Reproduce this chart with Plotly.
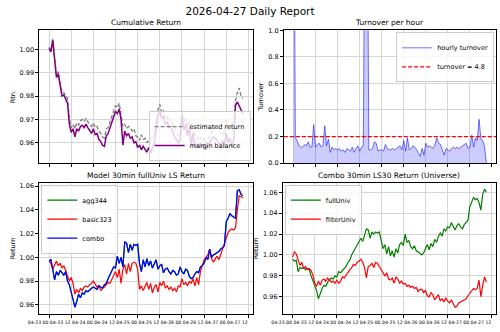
import pandas as pd
import plotly.graph_objects as go

# ---------------- data ----------------
start_time = "2026-04-23 00:00"
n_hours = 106
times = pd.date_range(start_time, periods=n_hours, freq="h")

est_return = [
    1.0010, 0.9995, 1.0045, 0.9960, 0.9890, 0.9905, 0.9850, 0.9815, 0.9815, 0.9805,
    0.9790, 0.9705, 0.9665, 0.9680, 0.9660, 0.9685, 0.9675, 0.9695, 0.9700, 0.9690,
    0.9705, 0.9690, 0.9680, 0.9670, 0.9685, 0.9665, 0.9670, 0.9650, 0.9640, 0.9625,
    0.9620, 0.9660, 0.9665, 0.9690, 0.9715, 0.9745, 0.9760, 0.9750, 0.9770, 0.9720,
    0.9670, 0.9680, 0.9660, 0.9670, 0.9665, 0.9650, 0.9660, 0.9630, 0.9625, 0.9610,
    0.9635, 0.9615, 0.9620, 0.9600, 0.9610, 0.9595, 0.9625, 0.9640, 0.9690, 0.9740,
    0.9765, 0.9730, 0.9740, 0.9705, 0.9715, 0.9690, 0.9700, 0.9675, 0.9660, 0.9650,
    0.9630, 0.9640, 0.9740, 0.9690, 0.9705, 0.9670, 0.9690, 0.9660, 0.9665, 0.9635,
    0.9620, 0.9610, 0.9625, 0.9610, 0.9620, 0.9600, 0.9615, 0.9630, 0.9640, 0.9665,
    0.9675, 0.9670, 0.9660, 0.9640, 0.9650, 0.9630, 0.9700, 0.9660, 0.9670, 0.9655,
    0.9690, 0.9780, 0.9815, 0.9835, 0.9800, 0.9790,
]

margin_balance = [
    1.0005, 0.9990, 1.0040, 0.9950, 0.9880, 0.9895, 0.9840, 0.9800, 0.9805, 0.9790,
    0.9770, 0.9680, 0.9645, 0.9660, 0.9625, 0.9660, 0.9650, 0.9670, 0.9675, 0.9665,
    0.9680, 0.9665, 0.9650, 0.9640, 0.9660, 0.9635, 0.9640, 0.9615, 0.9605, 0.9590,
    0.9585, 0.9630, 0.9640, 0.9665, 0.9690, 0.9720, 0.9735, 0.9725, 0.9745, 0.9700,
    0.9590, 0.9650, 0.9630, 0.9640, 0.9620, 0.9625, 0.9600, 0.9605, 0.9580, 0.9590,
    0.9570, 0.9585, 0.9575, 0.9560, 0.9580, 0.9555, 0.9580, 0.9600, 0.9660, 0.9715,
    0.9735, 0.9705, 0.9715, 0.9680, 0.9690, 0.9665, 0.9670, 0.9645, 0.9625, 0.9615,
    0.9600, 0.9610, 0.9720, 0.9655, 0.9680, 0.9630, 0.9665, 0.9590, 0.9640, 0.9580,
    0.9595, 0.9580, 0.9600, 0.9580, 0.9595, 0.9570, 0.9590, 0.9600, 0.9615, 0.9625,
    0.9620, 0.9610, 0.9600, 0.9590, 0.9610, 0.9590, 0.9640, 0.9600, 0.9620, 0.9585,
    0.9610, 0.9760, 0.9775, 0.9760, 0.9740, 0.9725,
]

turnover = [
    3.00, 0.19, 0.17, 0.13, 0.12, 0.12, 0.14, 0.13, 0.16, 0.12,
    0.12, 0.29, 0.12, 0.14, 0.15, 0.12, 0.13, 0.28, 0.13, 0.18,
    0.08, 0.12, 0.10, 0.11, 0.10, 0.11, 0.09, 0.10, 0.08, 0.11,
    0.10, 0.09, 0.12, 0.08, 0.11, 0.13, 0.09, 0.12, 0.13, 2.50,
    2.50, 0.10, 0.10, 0.11, 0.16, 0.15, 0.09, 0.10, 0.10, 0.09,
    0.14, 0.11, 0.10, 0.10, 0.11, 0.10, 0.11, 0.12, 0.13, 0.10,
    0.17, 0.09, 0.19, 0.10, 0.11, 0.13, 0.12, 0.10, 0.07, 0.05,
    0.11, 0.06, 0.15, 0.12, 0.13, 0.12, 0.11, 0.14, 0.19, 0.15,
    0.14, 0.10, 0.06, 0.11, 0.10, 0.09, 0.11, 0.12, 0.11, 0.12,
    0.11, 0.12, 0.13, 0.14, 0.15, 0.11, 0.12, 0.21, 0.12, 0.19,
    0.17, 0.33, 0.18, 0.17, 0.12, 0.00,
]
turnover_limit = 0.2

combo = [
    0.997, 0.998, 0.990, 0.981, 0.988, 0.985, 0.989, 0.987, 0.985, 0.988,
    0.980, 0.977, 0.971, 0.966, 0.958, 0.963, 0.969, 0.966, 0.970, 0.969,
    0.972, 0.971, 0.973, 0.974, 0.975, 0.974, 0.973, 0.976, 0.975, 0.974,
    0.977, 0.978, 0.982, 0.985, 0.988, 0.992, 0.991, 1.001, 0.995, 1.000,
    0.992, 1.013, 1.012, 1.004, 1.011, 1.006, 1.011, 1.010, 1.011, 0.995,
    0.988, 0.998, 0.992, 0.999, 0.993, 0.997, 0.991, 0.995, 0.998, 0.990,
    0.993, 0.994, 0.987, 0.990, 0.991, 0.988, 0.986, 0.989, 0.988, 0.985,
    0.986, 0.992, 0.988, 0.986, 0.990, 0.989, 0.984, 0.982, 0.983, 0.986,
    0.988, 0.987, 0.992, 0.993, 0.995, 1.000, 0.998, 1.007, 1.000, 1.002,
    1.003, 1.004, 1.005, 1.007, 1.008, 1.010, 1.030, 1.033, 1.037, 1.035,
    1.034, 1.033, 1.056, 1.057, 1.053, 1.052,
]
agg344 = list(combo)

basic323 = [
    0.997, 0.995, 0.990, 0.993, 0.997, 0.993, 0.995, 0.991, 0.993, 0.989,
    0.985, 0.980, 0.983, 0.978, 0.969, 0.973, 0.970, 0.974, 0.972, 0.975,
    0.976, 0.975, 0.977, 0.978, 0.980, 0.977, 0.975, 0.976, 0.972, 0.974,
    0.975, 0.977, 0.979, 0.978, 0.981, 0.985, 0.988, 0.983, 0.990, 0.978,
    0.990, 0.994, 0.986, 0.995, 0.988, 0.995, 0.996, 0.995, 0.990, 0.973,
    0.976, 0.972, 0.975, 0.979, 0.973, 0.978, 0.970, 0.975, 0.977, 0.971,
    0.979, 0.976, 0.980, 0.974, 0.976, 0.973, 0.975, 0.972, 0.974, 0.971,
    0.976, 0.975, 0.982, 0.977, 0.979, 0.976, 0.980, 0.978, 0.982, 0.976,
    0.983, 0.977, 0.988, 0.993, 0.998, 1.000, 1.002, 1.007, 0.999, 0.996,
    0.999, 1.001, 0.998, 1.003, 1.006, 1.012, 1.016, 1.021, 1.023, 1.024,
    1.023, 1.025, 1.040, 1.052, 1.051, 1.050,
]

full_univ = [
    0.996, 0.994, 0.995, 0.984, 0.988, 0.987, 0.988, 0.986, 0.987, 0.986,
    0.980, 0.975, 0.970, 0.966, 0.958, 0.964, 0.968, 0.971, 0.970, 0.974,
    0.976, 0.978, 0.977, 0.980, 0.979, 0.984, 0.983, 0.985, 0.986, 0.989,
    0.993, 0.995, 1.000, 1.003, 1.006, 1.010, 1.012, 1.016, 1.013, 1.020,
    1.025, 1.024, 1.016, 1.022, 1.020, 1.022, 1.021, 1.022, 1.012, 1.006,
    1.010, 1.001, 1.008, 0.999, 1.004, 0.998, 1.006, 1.002, 1.010, 1.012,
    1.009, 1.020, 1.012, 1.014, 1.008, 1.006, 1.009, 1.004, 1.003, 1.001,
    1.000, 1.002, 1.007, 1.010, 1.005, 1.011, 1.008, 1.015, 1.012, 1.018,
    1.021, 1.018, 1.025, 1.023, 1.027, 1.026, 1.031, 1.027, 1.024, 1.028,
    1.030, 1.027, 1.025, 1.029, 1.031, 1.033, 1.046, 1.051, 1.055, 1.053,
    1.054, 1.050, 1.043, 1.058, 1.063, 1.060,
]

filter_univ = [
    0.998, 1.003, 1.001, 0.996, 0.990, 0.993, 0.987, 0.989, 0.986, 0.987,
    0.985, 0.981, 0.973, 0.970, 0.975, 0.971, 0.976, 0.977, 0.975, 0.978,
    0.976, 0.974, 0.975, 0.973, 0.976, 0.973, 0.975, 0.979, 0.978, 0.981,
    0.983, 0.986, 0.988, 0.991, 0.990, 0.993, 0.994, 0.996, 0.993, 0.988,
    0.978, 0.989, 0.990, 0.992, 0.988, 0.993, 0.992, 0.989, 0.985, 0.982,
    0.980, 0.983, 0.977, 0.976, 0.978, 0.973, 0.979, 0.977, 0.973, 0.975,
    0.972, 0.973, 0.970, 0.971, 0.969, 0.970, 0.968, 0.969, 0.965, 0.967,
    0.967, 0.964, 0.966, 0.961, 0.960, 0.964, 0.962, 0.957, 0.960, 0.962,
    0.956, 0.958, 0.955, 0.959, 0.956, 0.954, 0.957, 0.953, 0.950, 0.951,
    0.954, 0.955, 0.956, 0.957, 0.958, 0.961, 0.963, 0.966, 0.968, 0.967,
    0.968, 0.976, 0.960, 0.971, 0.979, 0.974,
]

report_title = "2026-04-27 Daily Report"
panel_titles = ["Cumulative Return", "Turnover per hour",
                "Model 30min fullUniv LS Return", "Combo 30min LS30 Return (Universe)"]
tick_times = pd.date_range("2026-04-23 00:00", "2026-04-27 12:00", freq="12h")
tick_labels = [t.strftime("%m-%d %H") for t in tick_times]
x_range = ["2026-04-22 18:45", "2026-04-27 14:15"]

# ---------------- figure ----------------
W, H = 500, 332
FONT = "DejaVu Sans"

def px_x(a, b):
    return [a / W, b / W]

def px_y(top, bottom):
    return [1 - bottom / H, 1 - top / H]

dom = {
    1: (px_x(29, 247), px_y(27, 163)),
    2: (px_x(279, 496), px_y(27, 163)),
    3: (px_x(29, 247), px_y(183, 318)),
    4: (px_x(278, 496), px_y(183, 318)),
}

fig = go.Figure()

fig.add_trace(go.Scatter(x=times, y=est_return, mode="lines", name="estimated return",
                         line=dict(color="gray", width=1.3, dash="4px,2px"),
                         xaxis="x", yaxis="y", legend="legend"))
fig.add_trace(go.Scatter(x=times, y=margin_balance, mode="lines", name="margin balance",
                         line=dict(color="purple", width=1.5),
                         xaxis="x", yaxis="y", legend="legend"))

# turnover: filled area (no legend) + line (legend)
fig.add_trace(go.Scatter(x=times, y=turnover, mode="none", showlegend=False,
                         fill="tozeroy", fillcolor="rgba(0,0,255,0.2)",
                         xaxis="x2", yaxis="y2", hoverinfo="skip"))
fig.add_trace(go.Scatter(x=times, y=turnover, mode="lines", name="hourly turnover",
                         line=dict(color="rgba(0,0,255,0.55)", width=1),
                         xaxis="x2", yaxis="y2", legend="legend2"))
fig.add_shape(type="line", xref="x2 domain", x0=0, x1=1, yref="y2",
              y0=turnover_limit, y1=turnover_limit,
              line=dict(color="red", width=1.2, dash="4px,2px"),
              showlegend=True, name="turnover = 4.8", legend="legend2")

fig.add_trace(go.Scatter(x=times, y=agg344, mode="lines", name="agg344",
                         line=dict(color="green", width=1.2),
                         xaxis="x3", yaxis="y3", legend="legend3"))
fig.add_trace(go.Scatter(x=times, y=basic323, mode="lines", name="basic323",
                         line=dict(color="red", width=1.2),
                         xaxis="x3", yaxis="y3", legend="legend3"))
fig.add_trace(go.Scatter(x=times, y=combo, mode="lines", name="combo",
                         line=dict(color="blue", width=1.2),
                         xaxis="x3", yaxis="y3", legend="legend3"))

fig.add_trace(go.Scatter(x=times, y=full_univ, mode="lines", name="fullUniv",
                         line=dict(color="green", width=1.2),
                         xaxis="x4", yaxis="y4", legend="legend4"))
fig.add_trace(go.Scatter(x=times, y=filter_univ, mode="lines", name="filterUniv",
                         line=dict(color="red", width=1.2),
                         xaxis="x4", yaxis="y4", legend="legend4"))

axis_common = dict(showline=True, linecolor="black", linewidth=1, mirror=True,
                   ticks="outside", ticklen=3, tickwidth=1, tickcolor="black",
                   showgrid=True, gridcolor="#d6d6d6", gridwidth=1, zeroline=False,
                   tickfont=dict(family=FONT, size=6.5, color="black"))

y_specs = {
    1: dict(range=[0.9513, 1.0082], dtick=0.01, tickformat=".2f", title="Rtn."),
    2: dict(range=[0, 1], dtick=0.2, tickformat=".1f", title="Turnover"),
    3: dict(range=[0.952, 1.063], dtick=0.02, tickformat=".2f", title="Return"),
    4: dict(range=[0.9432, 1.0693], dtick=0.02, tickformat=".2f", title="Return"),
}

layout = dict(
    width=W, height=H, margin=dict(l=0, r=0, t=0, b=0),
    paper_bgcolor="white", plot_bgcolor="white",
    font=dict(family=FONT, color="black"),
    title=dict(text=report_title, x=0.5, xanchor="center", y=1 - 11 / H, yanchor="middle",
               font=dict(family=FONT, size=10.5, color="black")),
)

for i in range(1, 5):
    xs = "" if i == 1 else str(i)
    xd, yd = dom[i]
    spec = y_specs[i]
    xa = dict(axis_common, domain=xd, anchor="y" + xs, type="date", range=x_range,
              tickvals=list(tick_times), ticktext=tick_labels, tickangle=0)
    if i <= 2:
        xa["showticklabels"] = False
    else:
        xa["tickfont"] = dict(family=FONT, size=4.6, color="black")
        xa["ticklabelshift"] = -11
        xa["ticklabelstandoff"] = 0
    ya = dict(axis_common, domain=yd, anchor="x" + xs, range=spec["range"],
              dtick=spec["dtick"], tickformat=spec["tickformat"],
              title=dict(text=spec["title"], font=dict(family=FONT, size=6.5), standoff=3))
    layout["xaxis" + xs] = xa
    layout["yaxis" + xs] = ya

legend_common = dict(bgcolor="rgba(255,255,255,0.8)", bordercolor="#cccccc", borderwidth=1,
                     font=dict(family=FONT, size=6.5, color="black"), itemwidth=30,
                     tracegroupgap=0)
layout["legend"] = dict(legend_common, x=245 / W, xanchor="right", y=1 - 161 / H, yanchor="bottom")
layout["legend2"] = dict(legend_common, x=494 / W, xanchor="right", y=1 - 29 / H, yanchor="top")
layout["legend3"] = dict(legend_common, x=31 / W, xanchor="left", y=1 - 185 / H, yanchor="top")
layout["legend4"] = dict(legend_common, x=280 / W, xanchor="left", y=1 - 185 / H, yanchor="top")

annotations = []
for i, t in enumerate(panel_titles, start=1):
    xd, yd = dom[i]
    annotations.append(dict(text=t, xref="paper", yref="paper", x=(xd[0] + xd[1]) / 2,
                            y=yd[1], yanchor="bottom", xanchor="center", yshift=1,
                            showarrow=False, font=dict(family=FONT, size=7.5, color="black")))
layout["annotations"] = annotations

fig.update_layout(**layout)
fig.write_html("out.html")
